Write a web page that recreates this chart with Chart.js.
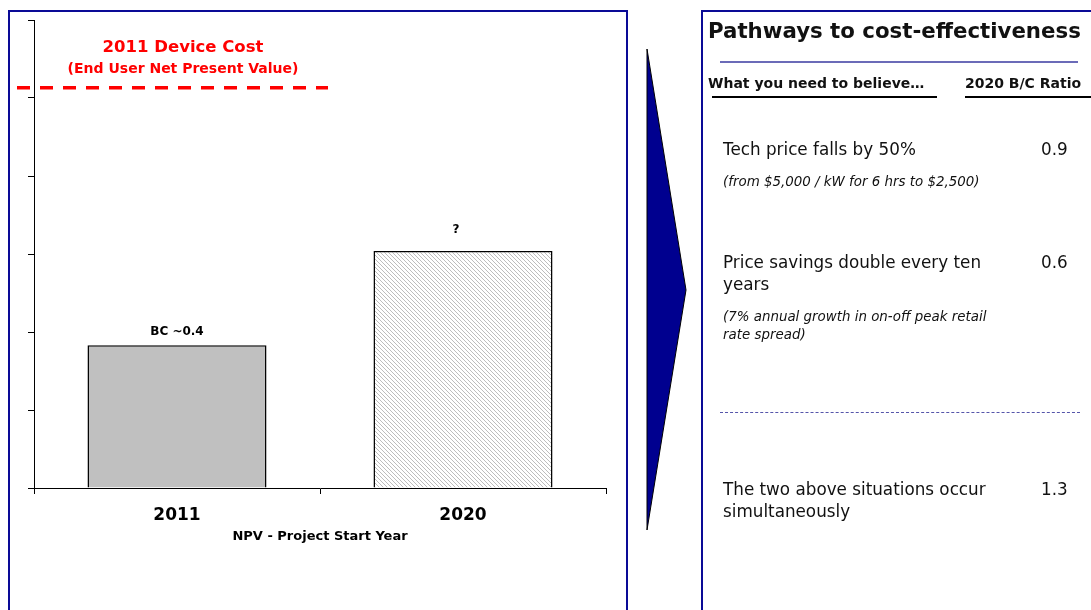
<!DOCTYPE html>
<html>
<head>
<meta charset="utf-8">
<script src="https://cdn.jsdelivr.net/npm/chart.js@4/dist/chart.umd.min.js"></script>
<style>
  body { margin: 0; background: #fff; width: 1091px; height: 610px; overflow: hidden; position: relative; font-family: "DejaVu Sans", sans-serif; }
  #leftBox { position: absolute; left: 8px; top: 10px; width: 616px; height: 640px; border: 2px solid #0a0a96; }
  #grafica { position: absolute; left: 0; top: 0; }
  #flecha { position: absolute; left: 0; top: 0; }
  #rightBox { position: absolute; left: 701px; top: 10px; width: 420px; height: 640px; border: 2px solid #0a0a96; }
  .t { position: absolute; white-space: nowrap; color: #111; }
  .titulo { left: 708px; top: 18px; font-size: 21.3px; font-weight: bold; line-height: 1.2; }
  .cab { top: 75px; font-size: 14px; font-weight: bold; line-height: 1.2; }
  .fila { left: 723px; font-size: 16.8px; line-height: 22px; }
  .nota { left: 723px; font-size: 13.4px; font-style: italic; line-height: 18px; }
  .ratio { left: 1041px; font-size: 16.8px; line-height: 22px; }
  .linea { position: absolute; }
</style>
</head>
<body>
<div id="leftBox"></div>
<canvas id="grafica" width="628" height="610"></canvas>
<svg id="flecha" width="700" height="610"><polygon points="647,49 686,290 647,530" fill="#00008f" stroke="#000" stroke-width="1"/></svg>
<div id="rightBox"></div>
<div id="panel"></div>
<script>
// datos de la grafica
var categorias = ['2011', '2020'];
var valoresNPV = [1.83, 3.04];
var etiquetasBarras = ['BC ~0.4', '?'];
var costeDispositivo = 5.13;
var ejeMax = 6;

// panel derecho
var caminos = [['Tech price falls by 50%'], ['Price savings double every ten', 'years'], ['The two above situations occur', 'simultaneously']];
var notas = [['(from $5,000 / kW for 6 hrs to $2,500)'], ['(7% annual growth in on-off peak retail', 'rate spread)'], []];
var ratios = ['0.9', '0.6', '1.3'];

function crearPanel() {
    var panel = document.getElementById('panel');
    var html = '';
    html += '<div class="t titulo">Pathways to cost-effectiveness</div>';
    html += '<div class="linea" style="left:720px;top:61px;width:358px;height:2px;background:#6b6bb8"></div>';
    html += '<div class="t cab" style="left:708px">What you need to believe…</div>';
    html += '<div class="t cab" style="left:965px">2020 B/C Ratio</div>';
    html += '<div class="linea" style="left:712px;top:96px;width:225px;height:1.5px;background:#000"></div>';
    html += '<div class="linea" style="left:965px;top:96px;width:130px;height:1.5px;background:#000"></div>';
    var topsFila = [138, 251, 478];
    var topsNota = [173, 308, 0];
    for (var i = 0; i < caminos.length; i++) {
        html += '<div class="t fila" style="top:' + topsFila[i] + 'px">' + caminos[i].join('<br>') + '</div>';
        html += '<div class="t ratio" style="top:' + topsFila[i] + 'px">' + ratios[i] + '</div>';
        if (notas[i].length) {
            html += '<div class="t nota" style="top:' + topsNota[i] + 'px">' + notas[i].join('<br>') + '</div>';
        }
    }
    html += '<div class="linea" style="left:720px;top:412px;width:360px;height:0;border-top:1.5px dashed #5555aa"></div>';
    panel.innerHTML = html;
}

function crearRayado() {
    var c = document.createElement('canvas');
    c.width = 8; c.height = 8;
    var g = c.getContext('2d');
    g.fillStyle = '#ffffff';
    g.fillRect(0, 0, 8, 8);
    g.fillStyle = '#bdbdbd';
    for (var x = 0; x < 8; x++) {
        for (var y = 0; y < 8; y++) {
            if ((x - y + 8) % 4 == 0) g.fillRect(x, y, 1, 1);
        }
    }
    return g.createPattern(c, 'repeat');
}

var pluginExtras = {
    id: 'extras',
    afterDatasetsDraw: function (chart) {
        var ctx = chart.ctx;
        var y = chart.scales.y.getPixelForValue(costeDispositivo);
        ctx.save();
        ctx.strokeStyle = '#ff0000';
        ctx.lineWidth = 3.5;
        ctx.setLineDash([13, 10]);
        ctx.beginPath();
        ctx.moveTo(17, y);
        ctx.lineTo(328, y);
        ctx.stroke();
        ctx.setLineDash([]);

        ctx.fillStyle = '#ff0000';
        ctx.textAlign = 'center';
        ctx.textBaseline = 'middle';
        ctx.font = 'bold 16.5px "DejaVu Sans"';
        ctx.fillText('2011 Device Cost', 183, 48);
        ctx.font = 'bold 14px "DejaVu Sans"';
        ctx.fillText('(End User Net Present Value)', 183, 69);

        ctx.fillStyle = '#000';
        ctx.font = 'bold 12px "DejaVu Sans"';
        var barras = chart.getDatasetMeta(0).data;
        var desp = [13, 21];
        for (var i = 0; i < barras.length; i++) {
            ctx.fillText(etiquetasBarras[i], barras[i].x - (i == 1 ? 7 : 0), barras[i].y - desp[i]);
        }
        ctx.restore();
    }
};

function crearGrafica() {
    var ctx = document.getElementById('grafica').getContext('2d');
    new Chart(ctx, {
        type: 'bar',
        data: {
            labels: categorias,
            datasets: [{
                data: valoresNPV,
                backgroundColor: ['#c0c0c0', crearRayado()],
                borderColor: '#000',
                borderWidth: 1.5,
                barPercentage: 0.626,
                categoryPercentage: 1
            }]
        },
        options: {
            responsive: false,
            animation: false,
            devicePixelRatio: 1,
            layout: { padding: { left: 28, right: 22, top: 20, bottom: 62 } },
            plugins: { legend: { display: false }, tooltip: { enabled: false } },
            scales: {
                x: {
                    grid: { drawOnChartArea: false, tickLength: 6, color: '#000', offset: true },
                    border: { color: '#000', width: 1 },
                    ticks: { color: '#000', padding: 11, font: { family: 'DejaVu Sans', weight: 'bold', size: 17 } },
                    title: { display: true, text: 'NPV - Project Start Year', color: '#000', padding: { top: -8, bottom: 4 }, font: { family: 'DejaVu Sans', weight: 'bold', size: 13 } }
                },
                y: {
                    min: 0,
                    max: ejeMax,
                    ticks: { display: false, stepSize: 1 },
                    grid: { drawOnChartArea: false, tickLength: 6, color: '#000' },
                    border: { color: '#000', width: 1 }
                }
            }
        },
        plugins: [pluginExtras]
    });
}

crearPanel();
crearGrafica();
</script>
</body>
</html>
